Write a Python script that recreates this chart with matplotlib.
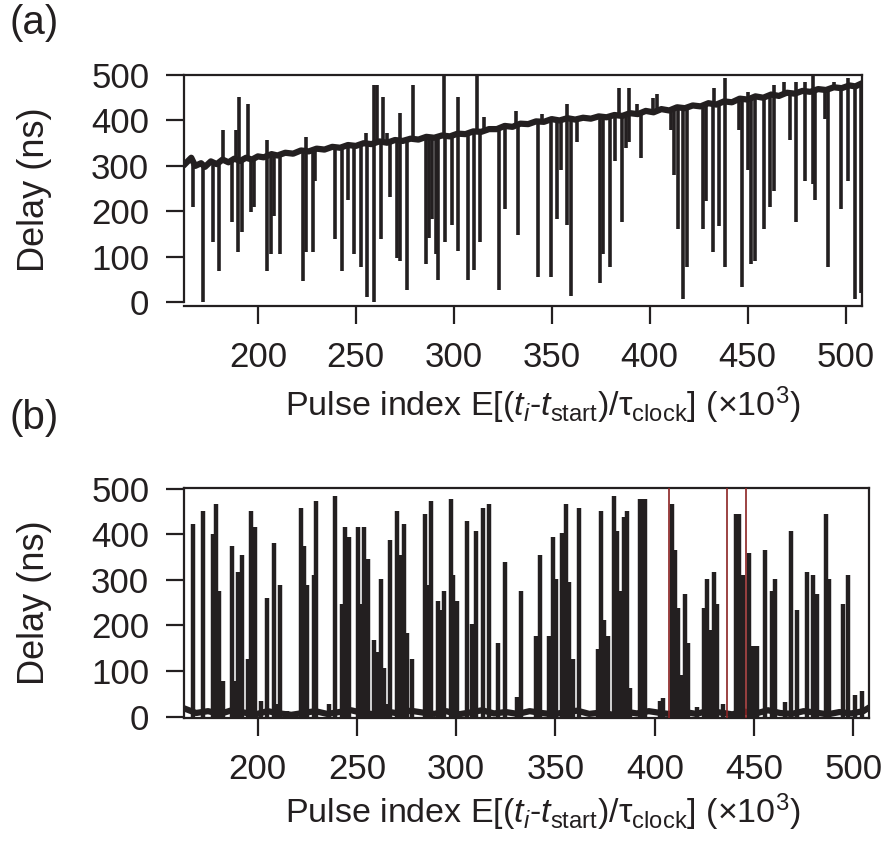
import matplotlib
matplotlib.use("Agg")
import matplotlib.pyplot as plt

plt.rcParams['font.family'] = ['Liberation Sans', 'DejaVu Sans']
plt.rcParams['mathtext.fontset'] = 'custom'
plt.rcParams['mathtext.rm'] = 'Liberation Sans'
plt.rcParams['mathtext.it'] = 'Liberation Sans:italic'

INK = '#231f20'

# ---------------- panel (a) ----------------
# slowly rising delay baseline (pulse index in 1e3, delay in ns)
a_base_x = [163, 166, 168, 171, 173, 176, 179, 182, 185, 188, 191, 194, 197, 200,
            203, 207, 210, 214, 218, 222, 226, 230, 234, 238, 242, 246, 250, 254,
            258, 262, 266, 270, 274, 278, 282, 286, 290, 294, 298, 302, 306, 310,
            314, 318, 322, 326, 330, 334, 338, 342, 346, 350, 354, 358, 362, 366,
            370, 374, 378, 382, 386, 390, 394, 398, 402, 406, 410, 414, 418, 422,
            426, 430, 434, 438, 442, 446, 450, 454, 458, 462, 466, 470, 474, 478,
            482, 486, 490, 494, 498, 502, 505, 508]
a_base_y = [305, 318, 300, 306, 298, 310, 304, 314, 308, 316, 311, 318, 314, 321,
            319, 326, 323, 329, 327, 334, 332, 338, 336, 342, 340, 346, 344, 350,
            348, 354, 351, 357, 355, 360, 358, 364, 362, 367, 365, 371, 370, 376,
            375, 381, 381, 388, 386, 393, 392, 398, 397, 403, 400, 405, 402, 406,
            404, 409, 407, 412, 410, 416, 414, 421, 418, 425, 422, 429, 427, 433,
            431, 438, 435, 442, 440, 448, 446, 453, 450, 457, 454, 461, 459, 465,
            463, 469, 467, 473, 471, 477, 475, 481]

# downward excursions: position, lowest delay, delay where it leaves the baseline
a_dn_x = [167.0, 172.1, 176.9, 180.3, 186.7, 190.1, 191.8, 196.6, 198.0, 204.9,
          206.7, 208.4, 211.4, 223.1, 224.7, 228.2, 229.4, 239.2, 243.0, 246.1,
          249.3, 252.8, 255.8, 259.2, 262.7, 267.4, 270.9, 272.4, 276.0, 285.7,
          287.4, 289.1, 290.8, 292.2, 295.4, 298.9, 302.0, 307.1, 310.1, 313.5,
          323.3, 326.2, 333.0, 342.9, 349.7, 352.8, 355.0, 357.9, 359.6, 363.1,
          374.5, 376.2, 379.6, 382.5, 386.0, 387.7, 389.3, 395.5, 410.9, 412.6,
          414.3, 417.2, 418.9, 427.1, 428.6, 432.1, 435.5, 438.5, 445.4, 447.1,
          450.2, 451.9, 453.6, 458.2, 461.6, 463.3, 471.5, 474.7, 479.5, 483.3,
          484.6, 489.4, 491.1, 497.8, 501.2, 504.6, 508.0]
a_dn_lo = [210, 0, 133, 70, 176, 111, 154, 198, 210, 70,
           106, 190, 107, 48, 111, 111, 267, 139, 70, 225,
           106, 77, 12, 0, 139, 232, 97, 92, 27, 84,
           141, 183, 106, 49, 133, 170, 113, 49, 71, 133,
           27, 205, 148, 56, 56, 183, 291, 170, 15, 353,
           42, 106, 78, 311, 176, 339, 353, 317, 379, 280,
           161, 7, 77, 161, 224, 111, 169, 77, 379, 34,
           290, 84, 92, 161, 210, 245, 358, 176, 267, 260,
           225, 403, 77, 205, 267, 7, 21]
a_dn_hi = [302, 300, 305, 310, 312, 314, 314, 317, 318, 321,
           322, 323, 326, 334, 335, 336, 337, 341, 342, 344,
           346, 347, 348, 350, 351, 354, 355, 356, 358, 361,
           362, 363, 364, 364, 366, 368, 369, 372, 375, 377,
           384, 386, 390, 396, 401, 401, 402, 403, 403, 404,
           407, 408, 409, 410, 412, 413, 413, 417, 425, 426,
           427, 429, 430, 434, 435, 437, 440, 442, 446, 447,
           449, 450, 451, 453, 455, 456, 459, 461, 463, 465,
           466, 468, 468, 472, 474, 476, 479]

# upward excursions: position, baseline delay, highest delay
a_up_x = [182.1, 189.0, 190.4, 195.2, 204.9, 224.7, 255.4, 259.2, 260.9, 264.0,
          266.0, 272.4, 279.2, 295.1, 302.0, 311.8, 315.3, 331.8, 345.0, 357.9,
          384.2, 389.3, 393.5, 401.8, 403.7, 433.1, 438.5, 450.0, 463.3, 468.4,
          474.7, 479.5, 483.3, 494.0, 501.2]
a_up_lo = [311, 314, 314, 317, 321, 335, 348, 350, 350, 352,
           353, 356, 360, 366, 369, 376, 379, 389, 398, 403,
           411, 413, 415, 420, 421, 438, 442, 449, 456, 458,
           461, 463, 465, 470, 474]
a_up_hi = [380, 380, 451, 436, 358, 364, 373, 479, 479, 451,
           372, 416, 479, 502, 451, 502, 408, 421, 415, 436,
           471, 471, 436, 449, 458, 471, 493, 463, 479, 485,
           485, 485, 502, 485, 493]

# ---------------- panel (b) ----------------
b_base_x = [163, 169, 175, 181, 187, 193, 199, 205, 211, 217, 223, 229, 235, 241,
            247, 253, 259, 265, 271, 277, 283, 289, 295, 301, 307, 313, 319, 325,
            331, 337, 343, 349, 355, 361, 367, 373, 379, 385, 391, 397, 403, 409,
            415, 421, 427, 433, 439, 445, 451, 457, 463, 469, 475, 481, 487, 493,
            499, 505, 508]
b_base_y = [18, 8, 12, 6, 14, 9, 5, 12, 7, 4, 8, 12, 6, 10,
            14, 8, 5, 11, 7, 13, 9, 6, 12, 5, 9, 14, 7, 10,
            6, 12, 8, 5, 10, 13, 6, 9, 4, 11, 7, 12, 8, 5,
            10, 6, 13, 9, 5, 11, 7, 14, 8, 6, 12, 9, 5, 10,
            7, 12, 20]

b_pk_x = [167.6, 172.3, 177.3, 179.0, 180.7, 182.4, 186.9, 188.6, 190.2, 191.9,
          195.3, 196.6, 198.6, 201.5, 204.8, 208.2, 209.6, 211.5, 215.0, 221.9,
          223.2, 224.9, 228.3, 229.4, 236.1, 239.1, 242.5, 244.2, 245.9, 250.4,
          252.1, 253.8, 255.4, 258.8, 260.5, 262.1, 263.5, 264.9, 266.8, 270.1,
          271.8, 273.5, 275.2, 277.5, 284.3, 285.6, 287.3, 290.6, 292.3, 293.8,
          297.2, 298.5, 300.5, 305.2, 308.2, 309.9, 313.3, 316.6, 321.1, 324.5,
          330.7, 332.4, 340.4, 342.1, 346.8, 348.5, 350.2, 353.5, 355.2, 356.9,
          358.6, 361.9, 371.2, 372.8, 374.5, 376.5, 379.5, 381.2, 382.9, 384.6,
          386.2, 387.4, 392.5, 394.2, 395.0, 402.5, 404.0, 408.6, 410.3, 411.9,
          413.6, 415.3, 416.9, 421.4, 424.8, 426.5, 428.2, 429.8, 431.5, 434.5,
          440.9, 442.6, 444.3, 447.6, 449.6, 451.3, 455.5, 458.9, 460.6, 465.6,
          468.4, 471.8, 476.5, 479.9, 481.5, 486.2, 487.9, 494.6, 497.5, 500.9,
          504.2]
b_pk_y = [423, 451, 401, 466, 275, 78, 374, 78, 317, 354,
          127, 451, 416, 35, 261, 381, 28, 289, 13, 458,
          374, 289, 310, 473, 28, 485, 246, 416, 395, 416,
          246, 416, 346, 169, 141, 302, 106, 28, 388, 451,
          354, 423, 183, 127, 444, 289, 473, 253, 233, 275,
          478, 310, 253, 429, 204, 408, 458, 466, 161, 339,
          43, 275, 176, 354, 176, 395, 302, 403, 466, 295,
          127, 458, 149, 451, 211, 176, 485, 408, 275, 438,
          451, 63, 478, 478, 478, 35, 40, 466, 366, 239,
          92, 268, 161, 22, 239, 302, 191, 317, 246, 28,
          444, 444, 310, 359, 155, 155, 366, 275, 302, 32,
          408, 233, 317, 310, 268, 444, 302, 246, 310, 48,
          56]

# marked pulses (thin dark red lines)
b_mark_x = [407.4, 436.5, 446.0]

ticks_x = [200, 250, 300, 350, 400, 450, 500]
ticks_y = [0, 100, 200, 300, 400, 500]

xlabel = (r'Pulse index E[($t_i$-$t_{\rm start}$)/'
          r'τ$_{\rm clock}$] ($\times$10$^3$)')

fig = plt.figure(figsize=(8.85, 8.56), dpi=100)
axA = fig.add_axes([184 / 885, 1 - 306 / 856, 678 / 885, 231 / 856])
axB = fig.add_axes([184 / 885, 1 - 718 / 856, 685 / 885, 230 / 856])

axA.plot(a_base_x, a_base_y, color=INK, lw=4.5)
axA.vlines(a_dn_x, a_dn_lo, a_dn_hi, color=INK, lw=2.6)
axA.vlines(a_up_x, a_up_lo, a_up_hi, color=INK, lw=2.6)
axA.set_xlim(162.3, 508.4)
axA.set_ylim(-8, 500)
axA.spines['left'].set_bounds(0, 500)

axB.plot(b_base_x, b_base_y, color=INK, lw=4.5)
axB.vlines(b_pk_x, 0, b_pk_y, color=INK, lw=3.2)
axB.vlines(b_mark_x, -3, 501.5, color='#8b2323', lw=1.2, zorder=5)
axB.set_xlim(162.9, 507.9)
axB.set_ylim(-3, 501.5)

for ax in (axA, axB):
    ax.set_xticks(ticks_x)
    ax.set_yticks(ticks_y)
    for s in ax.spines.values():
        s.set_linewidth(1.6)
        s.set_color(INK)
    ax.tick_params(axis='both', direction='out', length=13, width=1.6,
                   color=INK, labelsize=25, labelcolor=INK)
    ax.tick_params(axis='y', pad=12)
    ax.tick_params(axis='x', pad=12)

fig.text(10 / 885, 1 - 23 / 856, '(a)', fontsize=29, va='center', ha='left', color=INK)
fig.text(10 / 885, 1 - 418 / 856, '(b)', fontsize=29, va='center', ha='left', color=INK)
fig.text(34 / 885, 1 - 190 / 856, 'Delay (ns)', rotation=90, fontsize=26,
         ha='center', va='center', color=INK)
fig.text(34 / 885, 1 - 603 / 856, 'Delay (ns)', rotation=90, fontsize=26,
         ha='center', va='center', color=INK)
fig.text(543 / 885, 1 - 405 / 856, xlabel, fontsize=24.5, ha='center', va='center', color=INK)
fig.text(543 / 885, 1 - 812 / 856, xlabel, fontsize=24.5, ha='center', va='center', color=INK)

fig.savefig('out.png', dpi=100)
